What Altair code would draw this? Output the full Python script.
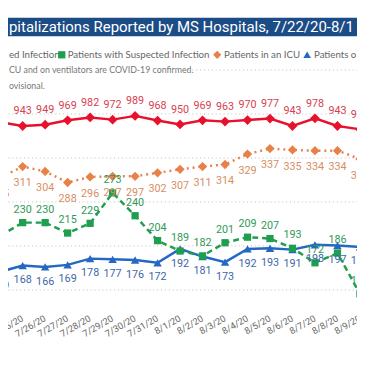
import altair as alt
import pandas as pd

# ---- data ----
dates = ["7/24/20", "7/25/20", "7/26/20", "7/27/20", "7/28/20", "7/29/20", "7/30/20",
         "7/31/20", "8/1/20", "8/2/20", "8/3/20", "8/4/20", "8/5/20", "8/6/20",
         "8/7/20", "8/8/20", "8/9/20"]
confirmed = [961, 943, 949, 969, 982, 972, 989, 968, 950, 969, 963, 970, 977, 943, 978, 943, 928]
suspected = [211, 230, 230, 215, 229, 273, 240, 204, 189, 182, 201, 209, 207, 193, 172, 186, 127]
icu = [295, 311, 304, 288, 296, 297, 297, 302, 307, 311, 314, 329, 337, 335, 334, 334, 322]
vent = [159, 168, 166, 169, 178, 177, 176, 172, 192, 181, 173, 192, 193, 191, 198, 197, 195]
grid_values = [200, 400, 600, 800, 1000, 1200]

title_text = "pitalizations Reported by MS Hospitals, 7/22/20-8/1"
legend_texts = ["ed Infection", "Patients with Suspected Infection", "Patients in an ICU", "Patients o"]
note_lines = ["CU and on ventilators are COVID-19 confirmed.", "ovisional."]

W, H = 357, 340
NUMFONT = "'Liberation Sans Narrow', Roboto, sans-serif"
TXTFONT = "Lato, 'Open Sans', sans-serif"

df = pd.DataFrame({"i": list(range(len(dates))), "date": dates, "confirmed": confirmed,
                   "suspected": suspected, "icu": icu, "vent": vent})

x = alt.X("i:Q", scale=alt.Scale(domain=[8 / 23, 365 / 23], nice=False, zero=False), axis=None)
prim_dom = [54.4, 534.6]
sec_dom = [-48.9, 1462.2]

base = alt.Chart(df)


def series(field, color, label_color, shape, size, dash, width, dy, dom, axis=None):
    y = alt.Y(f"{field}:Q", scale=alt.Scale(domain=dom, nice=False, zero=False), axis=axis)
    line_kw = dict(color=color, strokeWidth=width)
    if dash:
        line_kw["strokeDash"] = dash
    line = base.mark_line(**line_kw).encode(x=x, y=y)
    yn = alt.Y(f"{field}:Q", scale=alt.Scale(domain=dom, nice=False, zero=False), axis=None)
    pts = base.mark_point(shape=shape, size=size, filled=True, color=color, opacity=1).encode(x=x, y=yn)
    txt = base.mark_text(color=label_color, dy=dy, fontSize=11, font=NUMFONT).encode(
        x=x, y=yn, text=f"{field}:Q")
    return [line, pts, txt]


grid_axis = alt.Axis(orient="right", values=grid_values, grid=True, gridDash=[1, 3],
                     gridColor="#bdbdbd", gridWidth=1, labels=False, ticks=False,
                     domain=False, title=None)

red = series("confirmed", "#E8112D", "#D8404F", "diamond", 100, None, 2.5, -15, sec_dom, grid_axis)
blue = series("vent", "#2468C4", "#3C67A8", "triangle-up", 75, None, 2.5, 15, prim_dom)
green = series("suspected", "#1E9E4F", "#2E9A58", "square", 55, [6, 4], 2.5, -13, prim_dom)
orange = series("icu", "#E8804A", "#D88E62", "diamond", 90, [2, 4], 2.5, 17, prim_dom)

date_labels = base.mark_text(angle=330, align="right", baseline="middle", fontSize=9.5,
                             color="#666666", font=NUMFONT).encode(
    x=x, y=alt.value(313), text="date:N")

one = pd.DataFrame({"a": [0]})
note_bg = alt.Chart(one).mark_rect(color="white").encode(
    x=alt.value(0), x2=alt.value(180), y=alt.value(53), y2=alt.value(66))
title_bar = alt.Chart(one).mark_rect(color="#1B4C86").encode(
    x=alt.value(0), x2=alt.value(W), y=alt.value(6), y2=alt.value(25))
title = alt.Chart(pd.DataFrame({"t": [title_text]})).mark_text(
    align="left", baseline="middle", color="white", fontSize=15.3, font="Roboto").encode(
    x=alt.value(1), y=alt.value(16), text="t:N")

leg_x = [1, 61, 221, 313]
legend_layers = []
for t, lx in zip(legend_texts, leg_x):
    legend_layers.append(alt.Chart(pd.DataFrame({"t": [t]})).mark_text(
        align="left", baseline="middle", color="#666666", fontSize=9.9, font=TXTFONT).encode(
        x=alt.value(lx), y=alt.value(44), text="t:N"))
sym = [("square", "#1E9E4F", 55, 55), ("diamond", "#E8804A", 70, 214), ("triangle-up", "#2468C4", 60, 306)]
for shp, col, sz, sx in sym:
    legend_layers.append(alt.Chart(one).mark_point(shape=shp, size=sz, filled=True, color=col, opacity=1).encode(
        x=alt.value(sx), y=alt.value(44)))

note_layers = []
for t, ny in zip(note_lines, [60, 76]):
    note_layers.append(alt.Chart(pd.DataFrame({"t": [t]})).mark_text(
        align="left", baseline="middle", color="#777777", fontSize=9, font=TXTFONT).encode(
        x=alt.value(1), y=alt.value(ny), text="t:N"))

chart = alt.layer(
    red[0], note_bg, title_bar, title, *legend_layers, *note_layers,
    blue[0], green[0], orange[0], red[1],
    blue[1], green[1], orange[1],
    blue[2], green[2], orange[2], red[2],
    date_labels,
).resolve_scale(y="independent").properties(
    width=W, height=H, autosize=alt.AutoSizeParams(type="none"), padding=0,
    background="white"
).configure_view(stroke=None)

chart.save("out.html", embed_options={"renderer": "svg", "actions": False})
